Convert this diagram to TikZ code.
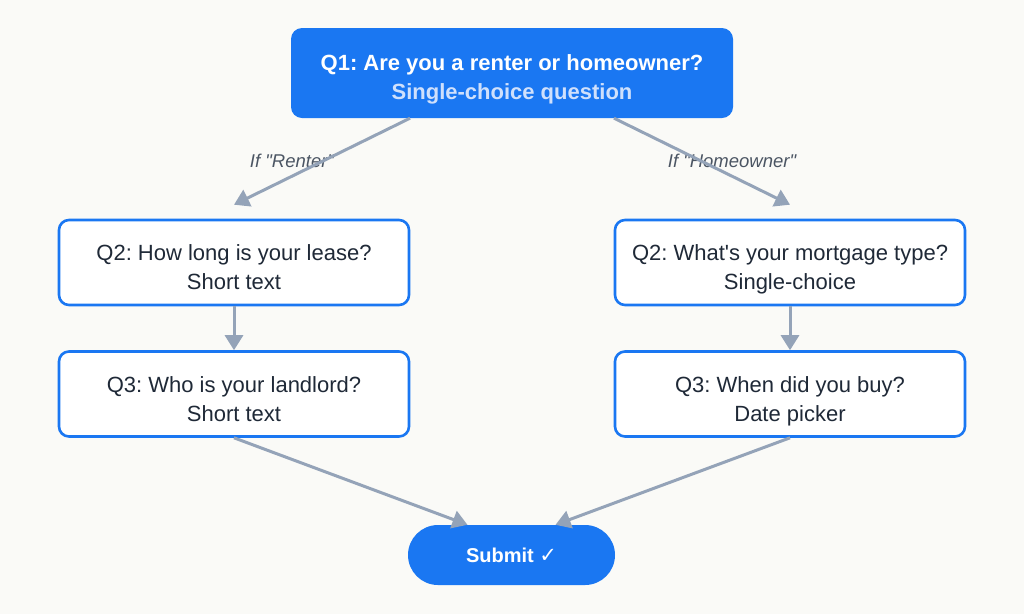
\documentclass[tikz,border=0pt]{standalone}
\usepackage{fontspec}
\setmainfont{Liberation Sans}
\newfontfamily\symfont{DejaVu Sans}
\usetikzlibrary{arrows.meta,positioning}
\definecolor{brandblue}{HTML}{1A77F2}
\definecolor{paleblue}{HTML}{CFE0FC}
\definecolor{inkdark}{HTML}{1F2937}
\definecolor{flowgray}{HTML}{94A3B8}
\definecolor{notegray}{HTML}{4B5563}
\definecolor{paper}{HTML}{FAFAF7}
\frenchspacing
% two text lines, set a little below the middle of the box
\newcommand{\qlines}[3][31pt]{\rule{0pt}{#1}#2\\#3\rule[-6pt]{0pt}{0pt}}

\begin{document}
\begin{tikzpicture}[x=1pt,y=-1pt,
  topbox/.style={fill=brandblue,rounded corners=11pt,minimum width=442pt,minimum height=90pt,inner sep=0pt,align=center,text=white,font=\fontsize{22}{29}\selectfont\bfseries},
  qbox/.style={draw=brandblue,line width=2.6pt,fill=white,rounded corners=10pt,minimum width=350pt,minimum height=85pt,inner sep=0pt,align=center,text=inkdark,font=\fontsize{22}{29}\selectfont},
  submitbox/.style={fill=brandblue,rounded corners=30pt,minimum width=207pt,minimum height=60pt,inner sep=0pt,text=white,font=\fontsize{20}{24}\selectfont\bfseries},
  flow/.style={draw=flowgray,line width=3pt,-{Triangle[length=15pt,width=18pt]}},
  cond/.style={text=notegray,font=\fontsize{18.5}{22}\selectfont\itshape}]
\fill[paper] (0,0) rectangle (1024,614);
\useasboundingbox (0,0) rectangle (1024,614);
% question nodes
\node[topbox] (q1) at (512,73) {\qlines[29pt]{Q1: Are you a renter or homeowner?}{\textcolor{paleblue}{Single-choice question}}};
\node[qbox] (rent2) at (234,262.5) {\qlines{Q2: How long is your lease?}{Short text}};
\node[qbox] (own2) at (790,262.5) {\qlines{Q2: What\textquotesingle s your mortgage type?}{Single-choice}};
\node[qbox] (rent3) at (234,394) {\qlines{Q3: Who is your landlord?}{Short text}};
\node[qbox] (own3) at (790,394) {\qlines{Q3: When did you buy?}{Date picker}};
\node[submitbox] (submit) at (511.5,555) {Submit {\symfont\fontsize{21}{24}\selectfont ✓}};
% branch labels
\node[cond] (ifrent) at (292,161) {If \textquotedbl Renter\textquotedbl};
\node[cond] (ifown) at (732,161) {If \textquotedbl Homeowner\textquotedbl};
% connectors
\draw[flow] ([xshift=-102pt]q1.south) -- ([yshift=14pt]rent2.north);
\draw[flow] ([xshift=102pt]q1.south) -- ([yshift=14pt]own2.north);
\draw[flow] (rent2) -- (rent3);
\draw[flow] (own2) -- (own3);
\draw[flow] (rent3.south) -- ([xshift=-44pt]submit.north);
\draw[flow] (own3.south) -- ([xshift=44pt]submit.north);
\end{tikzpicture}
\end{document}
